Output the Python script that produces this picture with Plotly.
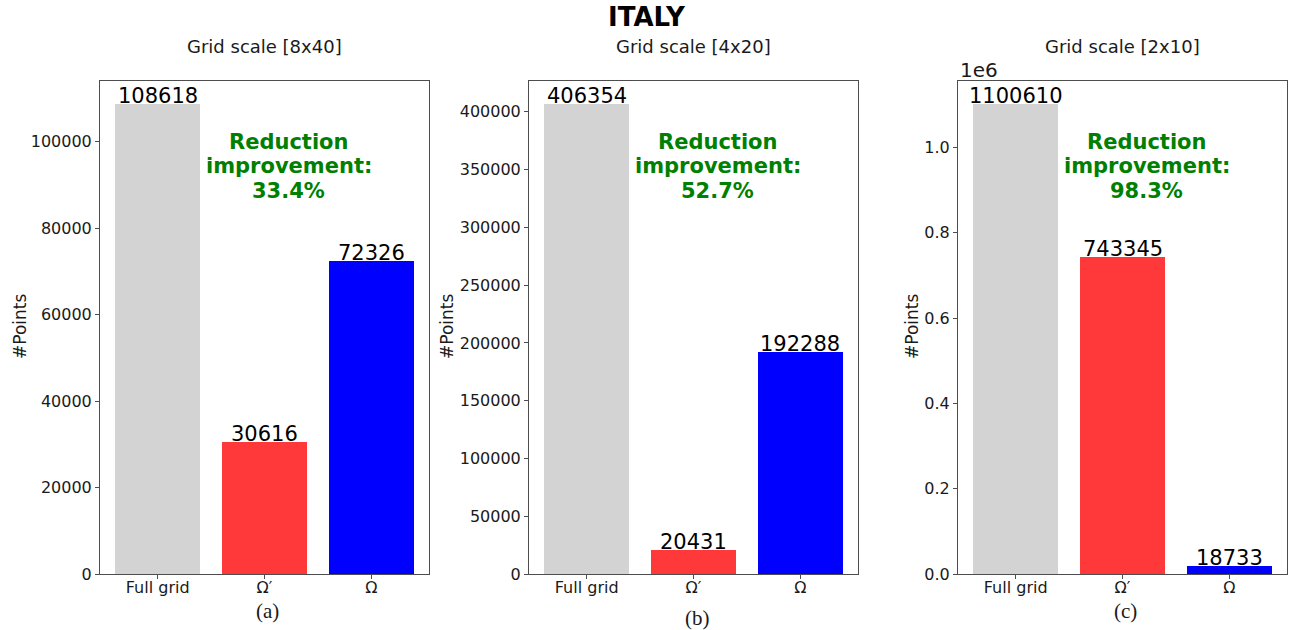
import plotly.graph_objects as go

# Point counts per grid scale
categories = ["Full grid", "Ω′", "Ω"]
panel_titles = ["Grid scale [8x40]", "Grid scale [4x20]", "Grid scale [2x10]"]
panel_letters = ["(a)", "(b)", "(c)"]
counts_8x40 = [108618, 30616, 72326]
counts_4x20 = [406354, 20431, 192288]
counts_2x10 = [1100610, 743345, 18733]
bar_colors = ["#d3d3d3", "#ff3939", "#0000ff"]

ticks_8x40 = [0, 20000, 40000, 60000, 80000, 100000]
ticks_4x20 = [0, 50000, 100000, 150000, 200000, 250000, 300000, 350000, 400000]
ticks_2x10 = [0, 200000, 400000, 600000, 800000, 1000000]
ticktext_2x10 = ["0.0", "0.2", "0.4", "0.6", "0.8", "1.0"]

W, H = 1293, 630
FONT = "DejaVu Sans"
TXT = "#1a1a1a"

panels = [
    (counts_8x40, ticks_8x40, [str(t) for t in ticks_8x40]),
    (counts_4x20, ticks_4x20, [str(t) for t in ticks_4x20]),
    (counts_2x10, ticks_2x10, ticktext_2x10),
]
left_px = [100, 529, 958]
box_w = 329
top_px, bottom_px = 81, 574


def px_x(x):
    return x / W


def px_y(y):
    return (H - y) / H


fig = go.Figure()
annotations = []

for i, (vals, tvals, ttext) in enumerate(panels):
    n = "" if i == 0 else str(i + 1)
    xa, ya = "x" + n, "y" + n
    fig.add_trace(go.Bar(
        x=list(range(len(categories))), y=vals, width=0.8,
        marker=dict(color=bar_colors, line=dict(width=0)),
        xaxis=xa, yaxis=ya, showlegend=False, hoverinfo="x+y",
    ))
    x0 = px_x(left_px[i])
    x1 = px_x(left_px[i] + box_w)
    axis_common = dict(showline=True, mirror=True, linecolor="#4d4d4d", linewidth=1,
                       ticks="outside", ticklen=4, tickcolor="#4d4d4d",
                       showgrid=False, zeroline=False, automargin=False,
                       tickfont=dict(family=FONT, size=16, color=TXT))
    fig.update_layout(**{
        ("xaxis" + n): dict(domain=[x0, x1], range=[-0.54, 2.54],
                            tickvals=list(range(len(categories))), ticktext=categories,
                            ticklabelstandoff=-5,
                            anchor=ya, **axis_common),
        ("yaxis" + n): dict(domain=[px_y(bottom_px), px_y(top_px)],
                            range=[0, max(vals) * 1.05],
                            tickvals=tvals, ticktext=ttext,
                            anchor=xa, **axis_common),
    })

    # value labels above each bar
    for j, v in enumerate(vals):
        annotations.append(dict(x=j, y=v, xref=xa, yref=ya, text=str(v),
                                showarrow=False, yanchor="bottom", yshift=-6,
                                font=dict(family=FONT, size=21, color="#000000")))

    # reduction improvement between full grid and Ω
    reduction = (1 - vals[2] / vals[0]) * 100
    cx = px_x(left_px[i] + box_w * 0.574)
    for line, ypix in zip(["Reduction", "improvement:", f"{reduction:.1f}%"], [142, 166, 191]):
        annotations.append(dict(x=cx, y=px_y(ypix), xref="paper", yref="paper", text=f"<b>{line}</b>",
                                showarrow=False, xanchor="center", yanchor="middle",
                                font=dict(family=FONT, size=21, color="#008000")))

    # panel title
    annotations.append(dict(x=px_x(left_px[i] + box_w / 2), y=px_y(47), xref="paper", yref="paper",
                            text=panel_titles[i], showarrow=False, xanchor="center", yanchor="middle",
                            font=dict(family=FONT, size=18, color=TXT)))
    # y-axis title
    ytitle_x = [20, 447, 912][i]
    annotations.append(dict(x=px_x(ytitle_x), y=px_y(327), xref="paper", yref="paper",
                            text="#Points", textangle=-90, showarrow=False,
                            xanchor="center", yanchor="middle",
                            font=dict(family=FONT, size=17, color=TXT)))
    # panel letter
    cap_y = [611, 618, 611][i]
    cap_x = [267, 697, 1125][i]
    annotations.append(dict(x=px_x(cap_x), y=px_y(cap_y), xref="paper", yref="paper",
                            text=panel_letters[i], showarrow=False, xanchor="center", yanchor="middle",
                            font=dict(family="Liberation Serif", size=21, color=TXT)))

# scientific offset on the last panel
annotations.append(dict(x=px_x(958), y=px_y(70), xref="paper", yref="paper", text="1e6",
                        showarrow=False, xanchor="left", yanchor="middle",
                        font=dict(family=FONT, size=20, color=TXT)))
# main title
annotations.append(dict(x=px_x(647), y=px_y(17), xref="paper", yref="paper", text="<b>ITALY</b>",
                        showarrow=False, xanchor="center", yanchor="middle",
                        font=dict(family=FONT, size=26, color="#000000")))

fig.update_layout(width=W, height=H, margin=dict(l=0, r=0, t=0, b=0),
                  paper_bgcolor="white", plot_bgcolor="white",
                  annotations=annotations, bargap=0)

fig.write_html("out.html")
